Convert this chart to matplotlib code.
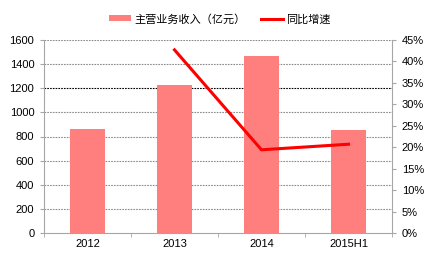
import matplotlib.pyplot as plt
import numpy as np

categories = ["2012", "2013", "2014", "2015H1"]
revenue = [865, 1230, 1470, 855]
growth_labels = ["2013", "2014", "2015H1"]
growth = [42.7, 19.4, 20.7]

BAR_COLOR = "#FF7F7F"
LINE_COLOR = "#FF0000"
AXIS_COLOR = "#A6A6A6"
FONTS = ["Liberation Sans", "Noto Sans CJK SC", "DejaVu Sans"]

plt.rcParams["font.family"] = FONTS

fig = plt.figure(figsize=(4.30, 2.54), dpi=100)
ax = fig.add_axes([44 / 430, 21 / 254, 348 / 430, 193 / 254])

x = np.arange(len(categories))
ax.bar(x, revenue, width=0.4, color=BAR_COLOR, zorder=3, label="主营业务收入（亿元）")

ax.set_xlim(-0.5, len(categories) - 0.5)
ax.set_ylim(0, 1600)
ax.set_yticks(range(0, 1601, 200))
for y in range(200, 1601, 200):
    dark = y == 1200
    ax.axhline(y, color="black" if dark else "#8C8C8C", linestyle=(0, (1.5, 1)),
               linewidth=0.8, zorder=1)

ax.set_xticks(x)
ax.set_xticklabels(categories)
ax.set_xticks(np.arange(-0.5, len(categories)), minor=True)
ax.tick_params(axis="x", which="major", length=0, labelsize=8, pad=4)
ax.tick_params(axis="x", which="minor", length=3, color=AXIS_COLOR)
ax.tick_params(axis="y", length=3, color=AXIS_COLOR, labelsize=8, pad=4)

for side in ["top", "right"]:
    ax.spines[side].set_visible(False)
for side in ["left", "bottom"]:
    ax.spines[side].set_color(AXIS_COLOR)

ax2 = ax.twinx()
gx = [categories.index(c) for c in growth_labels]
ax2.plot(gx, growth, color=LINE_COLOR, linewidth=2.2, zorder=4, label="同比增速")
ax2.set_ylim(0, 45)
ax2.set_yticks(range(0, 46, 5))
ax2.set_yticklabels([f"{v}%" for v in range(0, 46, 5)])
ax2.tick_params(axis="y", length=3, color=AXIS_COLOR, labelsize=8, pad=4)
for side in ["top", "left", "bottom"]:
    ax2.spines[side].set_visible(False)
ax2.spines["right"].set_color(AXIS_COLOR)

h1, l1 = ax.get_legend_handles_labels()
h2, l2 = ax2.get_legend_handles_labels()
fig.legend(h1 + h2, l1 + l2, loc="center", bbox_to_anchor=(0.511, 0.925), ncol=2,
           frameon=False, fontsize=8, handlelength=2.0, handleheight=0.45,
           columnspacing=1.4, handletextpad=0.3)

fig.savefig("out.png", dpi=100)
